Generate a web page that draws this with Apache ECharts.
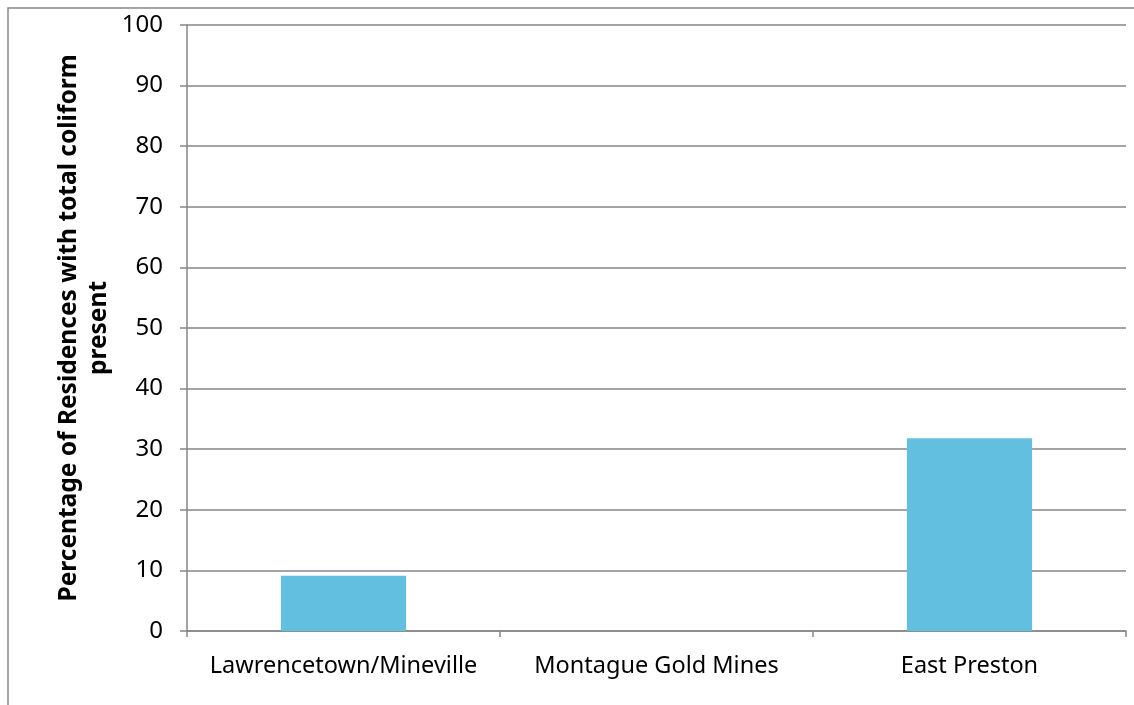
<!DOCTYPE html>
<html><head><meta charset="utf-8">
<script src="https://cdn.jsdelivr.net/npm/echarts@6/dist/echarts.min.js"></script>
<style>html,body{margin:0;padding:0;background:#fff}#c{width:1134px;height:705px}</style>
</head><body><div id="c"></div>
<script>
const categories = ["Lawrencetown/Mineville", "Montague Gold Mines", "East Preston"];
const values = [9.1, 0, 31.8];
const yTitle = "Percentage of Residences with total coliform\npresent";
const FONT = "'Noto Sans', 'Open Sans', sans-serif";
const chart = echarts.init(document.getElementById('c'), null, {renderer: 'canvas'});
chart.setOption({
  animation: false,
  backgroundColor: '#fff',
  grid: {left: 187, top: 25, right: 8, bottom: 74, containLabel: false},
  xAxis: {
    type: 'category', data: categories,
    axisLine: {lineStyle: {color: '#868686', width: 1.5}},
    axisTick: {show: true, interval: 0, length: 6, alignWithLabel: false, lineStyle: {color: '#868686', width: 1.5}},
    axisLabel: {interval: 0, color: '#000', fontFamily: FONT, fontSize: 23.5, margin: 23}
  },
  yAxis: {
    type: 'value', min: 0, max: 100, interval: 10,
    axisLine: {show: true, lineStyle: {color: '#868686', width: 1.5}},
    axisTick: {show: true, length: 7, inside: false, lineStyle: {color: '#868686', width: 1.5}},
    splitLine: {show: true, lineStyle: {color: '#868686', width: 1.5}},
    axisLabel: {color: '#000', fontFamily: FONT, fontSize: 24, margin: 24}
  },
  series: [{
    type: 'bar', data: values, barWidth: '40%',
    itemStyle: {color: '#62BFDF', borderWidth: 0}
  }],
  graphic: [
    {type: 'rect', x: 8, y: 8, shape: {x: 0, y: 0, width: 1200, height: 800}, silent: true, z: -10,
     style: {fill: 'none', stroke: '#888', lineWidth: 1.5}},
    {type: 'text', x: 84, y: 328, rotation: Math.PI / 2,
     style: {text: yTitle, font: "bold 24.5px " + FONT, fill: '#000', textAlign: 'center', textVerticalAlign: 'middle', lineHeight: 30}}
  ]
});
</script></body></html>
